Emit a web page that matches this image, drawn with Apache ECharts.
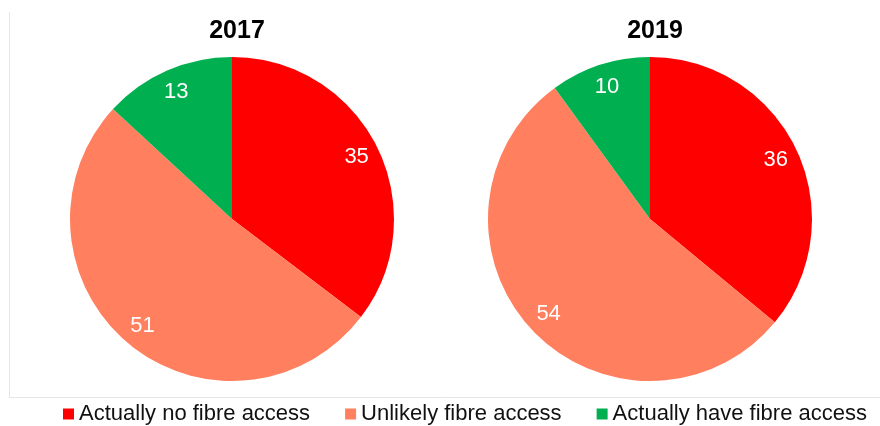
<!DOCTYPE html>
<html>
<head>
<meta charset="utf-8">
<script src="https://cdn.jsdelivr.net/npm/echarts@6/dist/echarts.min.js"></script>
<style>
  html, body { margin: 0; padding: 0; background: #fff; }
  #chart { width: 880px; height: 426px; }
</style>
</head>
<body>
<div id="chart"></div>
<script>
  // data
  const categories = ['Actually no fibre access', 'Unlikely fibre access', 'Actually have fibre access']
  const years = ['2017', '2019']
  const values2017 = [35, 51, 13]
  const values2019 = [36, 54, 10]
  const colors = ['#FF0000', '#FF7F5F', '#00B050']

  const font = 'Liberation Sans, Arial, sans-serif'
  const R = 162
  const centers = [[232, 219], [650, 219]]

  function toData(vals) {
    return vals.map((v, i) => ({ name: categories[i], value: v }))
  }

  const series = []
  ;[values2017, values2019].forEach((vals, k) => {
    // the pie itself
    series.push({
      type: 'pie',
      name: years[k],
      center: centers[k],
      radius: [0, R],
      startAngle: 90,
      clockwise: true,
      silent: true,
      label: { show: false },
      labelLine: { show: false },
      itemStyle: { borderWidth: 0 },
      data: toData(vals)
    })
    // transparent ring just to place the value labels near the rim
    series.push({
      type: 'pie',
      center: centers[k],
      radius: [R * 0.68, R],
      startAngle: 90,
      clockwise: true,
      silent: true,
      legendHoverLink: false,
      itemStyle: { color: 'rgba(0,0,0,0)', borderWidth: 0 },
      label: {
        show: true,
        position: 'inside',
        color: '#fff',
        fontSize: 22,
        fontFamily: font,
        formatter: '{c}'
      },
      labelLine: { show: false },
      data: toData(vals)
    })
  })

  const chart = echarts.init(document.getElementById('chart'))
  chart.setOption({
    animation: false,
    color: colors,
    title: years.map((y, k) => ({
      text: y,
      left: centers[k][0],
      top: 14,
      textAlign: 'center',
      textStyle: { fontSize: 25, fontWeight: 'bold', color: '#000', fontFamily: font }
    })),
    legend: {
      data: categories,
      left: 58,
      top: 398,
      itemWidth: 11,
      itemHeight: 11,
      itemGap: 35,
      icon: 'rect',
      selectedMode: false,
      textStyle: { fontSize: 22, color: '#111', fontFamily: font }
    },
    graphic: [
      { type: 'line', shape: { x1: 9.5, y1: 12, x2: 9.5, y2: 397 }, style: { stroke: '#e6e6e6', lineWidth: 1 } },
      { type: 'line', shape: { x1: 9, y1: 397.5, x2: 880, y2: 397.5 }, style: { stroke: '#e6e6e6', lineWidth: 1 } }
    ],
    series: series
  })
  window.addEventListener('resize', function () {
    chart.resize()
  })
</script>
</body>
</html>
